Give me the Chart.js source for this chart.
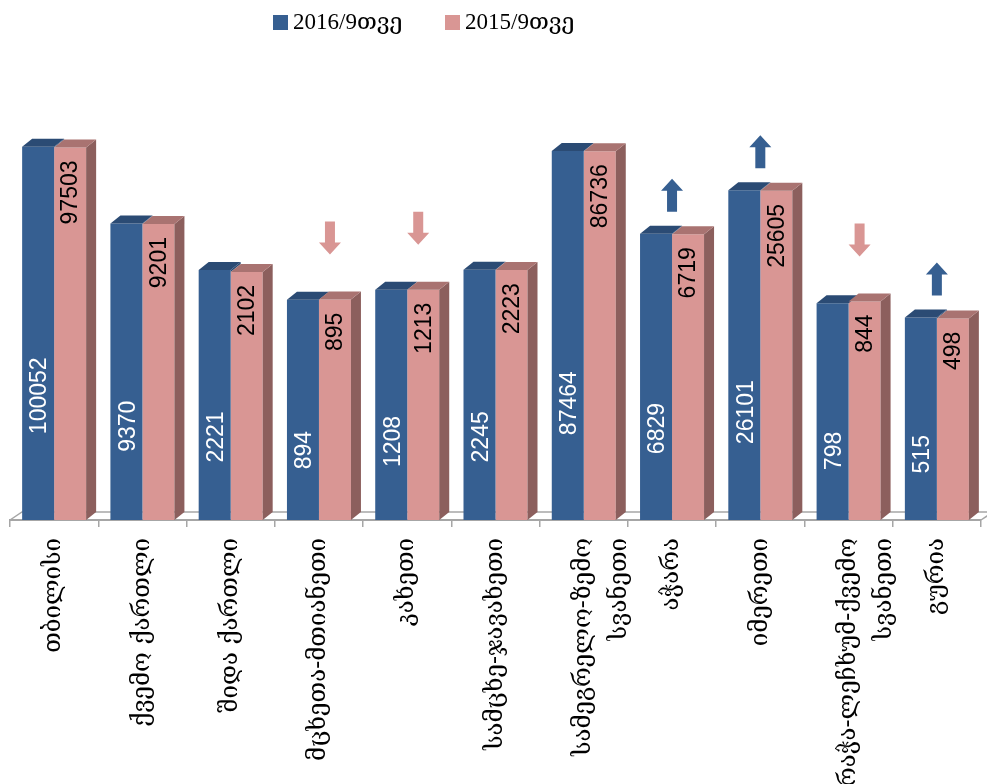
<!DOCTYPE html>
<html>
<head>
<meta charset="utf-8">
<script src="https://cdn.jsdelivr.net/npm/chart.js@4/dist/chart.umd.min.js"></script>
<style>
  body { margin: 0; background: #fff; }
  #wrap { width: 987px; height: 784px; }
</style>
</head>
<body>
<div id="wrap"><canvas id="regionChart" width="987" height="784"></canvas></div>
<script>
const regions = [
  "თბილისი", "ქვემო ქართლი", "შიდა ქართლი", "მცხეთა-მთიანეთი", "კახეთი",
  "სამცხე-ჯავახეთი", ["სამეგრელო-ზემო", "სვანეთი"], "აჭარა", "იმერეთი",
  ["რაჭა-ლეჩხუმ-ქვემო", "სვანეთი"], "გურია"
];
const seriesNames = ["2016/9თვე", "2015/9თვე"];
const values2016 = [100052, 9370, 2221, 894, 1208, 2245, 87464, 6829, 26101, 798, 515];
const values2015 = [97503, 9201, 2102, 895, 1213, 2223, 86736, 6719, 25605, 844, 498];
// arrows drawn above some groups: 1 = up, -1 = down, 0 = none
const trendMarks = [0, 0, 0, -1, -1, 0, 0, 1, 1, -1, 1];

const BLUE = "#365F91", BLUE_TOP = "#2B4B74";
const PINK = "#D99694", PINK_TOP = "#A97371", PINK_SIDE = "#8C5F5D";
const DX = 10, DY = 8; // 3d depth of the bars

// floor behind the bars
const floorPlugin = {
  id: "floor",
  beforeDatasetsDraw(chart) {
    const { ctx, chartArea } = chart;
    const b = chartArea.bottom;
    ctx.save();
    ctx.strokeStyle = "#A6A6A6";
    ctx.lineWidth = 1.5;
    ctx.beginPath();
    ctx.moveTo(chartArea.left, b);
    ctx.lineTo(chartArea.left + 12, b - DY);
    ctx.lineTo(chartArea.right + 12, b - DY);
    ctx.lineTo(chartArea.right, b);
    ctx.stroke();
    ctx.restore();
  }
};

function poly(ctx, pts, color) {
  ctx.fillStyle = color;
  ctx.beginPath();
  ctx.moveTo(pts[0][0], pts[0][1]);
  for (let i = 1; i < pts.length; i++) ctx.lineTo(pts[i][0], pts[i][1]);
  ctx.closePath();
  ctx.fill();
}

function topFace(ctx, p, color) {
  const l = p.x - p.width / 2, r = p.x + p.width / 2;
  poly(ctx, [[l, p.y], [r, p.y], [r + DX, p.y - DY], [l + DX, p.y - DY]], color);
}

function sideFace(ctx, p, yTop, yBottom, color) {
  const r = p.x + p.width / 2;
  poly(ctx, [[r, yTop], [r + DX, yTop - DY], [r + DX, yBottom - DY], [r, yBottom]], color);
}

function arrow(ctx, x, yTop, up, color) {
  const h = 33, head = 12, hw = 11, sw = 5;
  ctx.fillStyle = color;
  ctx.beginPath();
  if (up) {
    ctx.moveTo(x, yTop);
    ctx.lineTo(x + hw, yTop + head);
    ctx.lineTo(x + sw, yTop + head);
    ctx.lineTo(x + sw, yTop + h);
    ctx.lineTo(x - sw, yTop + h);
    ctx.lineTo(x - sw, yTop + head);
    ctx.lineTo(x - hw, yTop + head);
  } else {
    ctx.moveTo(x - sw, yTop);
    ctx.lineTo(x + sw, yTop);
    ctx.lineTo(x + sw, yTop + h - head);
    ctx.lineTo(x + hw, yTop + h - head);
    ctx.lineTo(x, yTop + h);
    ctx.lineTo(x - hw, yTop + h - head);
    ctx.lineTo(x - sw, yTop + h - head);
  }
  ctx.closePath();
  ctx.fill();
}

function vText(ctx, text, x, y, align, color) {
  ctx.save();
  ctx.translate(x, y);
  ctx.rotate(-Math.PI / 2);
  ctx.textAlign = align;
  ctx.textBaseline = "middle";
  ctx.fillStyle = color;
  ctx.fillText(text, 0, 0);
  ctx.restore();
}

const bars3dPlugin = {
  id: "bars3d",
  afterDatasetsDraw(chart) {
    const ctx = chart.ctx;
    const blue = chart.getDatasetMeta(0).data;
    const pink = chart.getDatasetMeta(1).data;
    const xScale = chart.scales.x;
    ctx.save();
    blue.forEach((bar, i) => {
      const a = bar.getProps(["x", "y", "base", "width"], true);
      const b = pink[i].getProps(["x", "y", "base", "width"], true);
      if (a.y < b.y) sideFace(ctx, a, a.y, b.y, BLUE_TOP);
      sideFace(ctx, b, b.y, b.base, PINK_SIDE);
      topFace(ctx, a, BLUE_TOP);
      topFace(ctx, b, PINK_TOP);

      ctx.font = "23px 'Liberation Sans', Arial, sans-serif";
      vText(ctx, String(values2016[i]), a.x + 2, a.base - 0.23 * (a.base - a.y), "left", "#FFFFFF");
      vText(ctx, String(values2015[i]), b.x + 1, b.y + 13, "right", "#000000");

      const top = Math.min(a.y, b.y);
      const cx = xScale.getPixelForValue(i);
      if (trendMarks[i] > 0) arrow(ctx, cx, top - 22 - 33, true, BLUE);
      if (trendMarks[i] < 0) arrow(ctx, cx + 11, top - 45 - 33, false, PINK);
    });
    ctx.restore();
  }
};

// legend drawn at the top, left of centre like the original
const legendPlugin = {
  id: "topLegend",
  afterDraw(chart) {
    const ctx = chart.ctx;
    const colors = [BLUE, PINK];
    const boxX = [273, 445];
    ctx.save();
    ctx.font = "23px 'Liberation Serif', 'DejaVu Serif', serif";
    ctx.textBaseline = "middle";
    seriesNames.forEach((name, i) => {
      ctx.fillStyle = colors[i];
      ctx.fillRect(boxX[i], 15, 15, 15);
      ctx.fillStyle = "#000";
      ctx.fillText(name, boxX[i] + 20, 23);
    });
    ctx.restore();
  }
};

const ctx = document.getElementById("regionChart").getContext("2d");
new Chart(ctx, {
  type: "bar",
  data: {
    labels: regions,
    datasets: [
      { label: seriesNames[0], data: values2016, backgroundColor: BLUE, borderWidth: 0 },
      { label: seriesNames[1], data: values2015, backgroundColor: PINK, borderWidth: 0 }
    ]
  },
  options: {
    responsive: false,
    animation: false,
    categoryPercentage: 0.725,
    barPercentage: 1,
    layout: { padding: { left: 10, right: 6, top: 72, bottom: 0 } },
    plugins: {
      legend: { display: false },
      tooltip: { enabled: false }
    },
    scales: {
      x: {
        grid: {
          display: true,
          drawOnChartArea: false,
          drawTicks: true,
          tickLength: 7,
          offset: true,
          color: "#A6A6A6",
          lineWidth: 1.5
        },
        border: { display: true, color: "#A6A6A6", width: 2 },
        ticks: {
          autoSkip: false,
          minRotation: 90,
          maxRotation: 90,
          padding: 11,
          color: "#000",
          font: { family: "'DejaVu Serif', serif", size: 24, lineHeight: 1.5 }
        },
        afterFit(scale) { scale.height = 264; }
      },
      y: {
        type: "logarithmic",
        min: 1,
        max: 1000000,
        display: false
      }
    }
  },
  plugins: [floorPlugin, bars3dPlugin, legendPlugin]
});
</script>
</body>
</html>
